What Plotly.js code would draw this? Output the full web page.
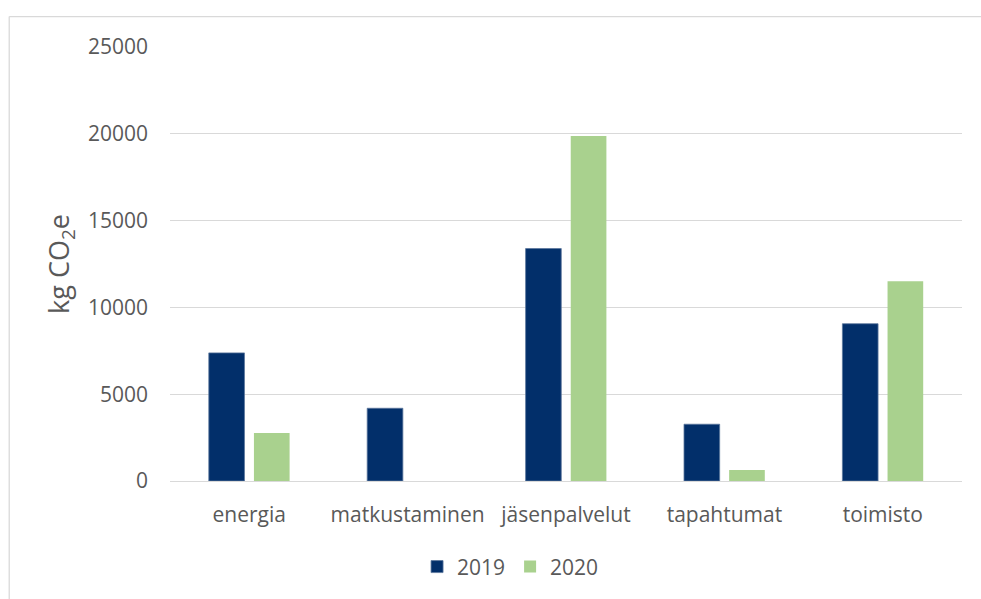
<!DOCTYPE html>
<html>
<head>
<meta charset="utf-8">
<script src="https://cdn.plot.ly/plotly-3.0.1.min.js"></script>
<style>html,body{margin:0;padding:0;background:#fff;}#chart{width:981px;height:599px;}</style>
</head>
<body>
<div id="chart"></div>
<script>
const categories = ["energia", "matkustaminen", "jäsenpalvelut", "tapahtumat", "toimisto"];
const values2019 = [7380, 4190, 13390, 3270, 9060];
const values2020 = [2770, 0, 19870, 630, 11510];
const seriesNames = ["2019", "2020"];
const yTicks = [0, 5000, 10000, 15000, 20000, 25000];

const font = {family: "Open Sans, sans-serif", size: 21, color: "#595959"};

const traces = [
  {type: "bar", name: seriesNames[0], x: categories, y: values2019,
   marker: {color: "#022F6A", line: {color: "#5A769C", width: 0.8}}},
  {type: "bar", name: seriesNames[1], x: categories, y: values2020,
   marker: {color: "#A9D18E", line: {width: 0}}}
];

const layout = {
  width: 981, height: 599,
  margin: {l: 170, r: 19, t: 47, b: 118},
  paper_bgcolor: "#ffffff", plot_bgcolor: "#ffffff",
  font: font,
  barmode: "group", bargap: 0.43, bargroupgap: 0.21,
  showlegend: true,
  legend: {orientation: "h", x: 0.43, xanchor: "center", y: -0.198, yanchor: "middle",
           font: font, itemwidth: 30},
  xaxis: {type: "category", showgrid: false, showline: false, zeroline: false,
          ticks: "", tickfont: font, ticklabelstandoff: 19},
  yaxis: {range: [0, 25000], tickvals: yTicks, ticktext: yTicks.map(String),
          showgrid: true, gridcolor: "#d9d9d9", gridwidth: 1.3,
          zeroline: true, zerolinecolor: "#d9d9d9", zerolinewidth: 1.3,
          showline: false, ticks: "", tickfont: font, ticklabelstandoff: 21,
          title: {text: "kg CO<sub>2</sub>e", font: {family: font.family, size: 27, color: "#595959"}, standoff: 10}},
  shapes: [
    {type: "line", xref: "paper", yref: "paper", x0: -0.203, x1: 1.03, y0: 1.07, y1: 1.07,
     line: {color: "#d9d9d9", width: 1.3}},
    {type: "line", xref: "paper", yref: "paper", x0: -0.203, x1: -0.203, y0: 1.07, y1: -0.3,
     line: {color: "#d9d9d9", width: 1.3}}
  ]
};

Plotly.newPlot("chart", traces, layout, {displayModeBar: false, responsive: false});
</script>
</body>
</html>
